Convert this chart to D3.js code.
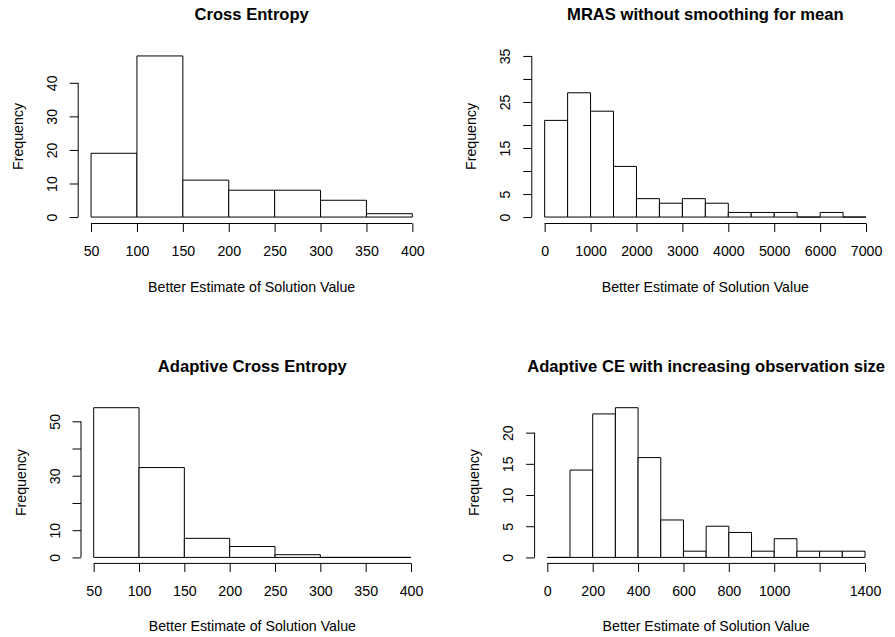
<!DOCTYPE html>
<html><head><meta charset="utf-8">
<script src="https://cdn.jsdelivr.net/npm/d3@7/dist/d3.min.js"></script>
<style>
body{margin:0;background:#fff}
svg{display:block}
text{font-family:"Liberation Sans",Arial,Helvetica,sans-serif;fill:#000}
</style>
</head><body>
<svg id="c" width="895" height="637"></svg>
<script>
// ---- data ----
const titles = ["Cross Entropy", "MRAS without smoothing for mean", "Adaptive Cross Entropy", "Adaptive CE with increasing observation size"];
const xLabel = "Better Estimate of Solution Value";
const yLabel = "Frequency";

const breaksCE = [50, 100, 150, 200, 250, 300, 350, 400];
const countsCE = [19, 48, 11, 8, 8, 5, 1];

const breaksMRAS = [0, 500, 1000, 1500, 2000, 2500, 3000, 3500, 4000, 4500, 5000, 5500, 6000, 6500, 7000];
const countsMRAS = [21, 27, 23, 11, 4, 3, 4, 3, 1, 1, 1, 0, 1, 0];

const breaksACE = [50, 100, 150, 200, 250, 300, 350, 400];
const countsACE = [55, 33, 7, 4, 1, 0, 0];

const breaksACEobs = [0, 100, 200, 300, 400, 500, 600, 700, 800, 900, 1000, 1100, 1200, 1300, 1400];
const countsACEobs = [0, 14, 23, 24, 16, 6, 1, 5, 4, 1, 3, 1, 1, 1];

const yLimMax = [48, 35, 55, 24];

const xTicksCE = [50, 100, 150, 200, 250, 300, 350, 400];
const xTickLabelsCE = ["50", "100", "150", "200", "250", "300", "350", "400"];
const xTicksMRAS = [0, 1000, 2000, 3000, 4000, 5000, 6000, 7000];
const xTickLabelsMRAS = ["0", "1000", "2000", "3000", "4000", "5000", "6000", "7000"];
const xTicksACE = [50, 100, 150, 200, 250, 300, 350, 400];
const xTickLabelsACE = ["50", "100", "150", "200", "250", "300", "350", "400"];
const xTicksACEobs = [0, 200, 400, 600, 800, 1000, 1200, 1400];
const xTickLabelsACEobs = ["0", "200", "400", "600", "800", "1000", "", "1400"];

const yTicksCE = [0, 10, 20, 30, 40];
const yTickLabelsCE = ["0", "10", "20", "30", "40"];
const yTicksMRAS = [0, 5, 10, 15, 20, 25, 30, 35];
const yTickLabelsMRAS = ["0", "5", "", "15", "", "25", "", "35"];
const yTicksACE = [0, 10, 20, 30, 40, 50];
const yTickLabelsACE = ["0", "10", "", "30", "", "50"];
const yTicksACEobs = [0, 5, 10, 15, 20];
const yTickLabelsACEobs = ["0", "5", "10", "15", "20"];

// ---- build panels ----
const panels = [
  {title: titles[0], breaks: breaksCE, counts: countsCE, ymax: yLimMax[0], xt: xTicksCE, xl: xTickLabelsCE, yt: yTicksCE, yl: yTickLabelsCE},
  {title: titles[1], breaks: breaksMRAS, counts: countsMRAS, ymax: yLimMax[1], xt: xTicksMRAS, xl: xTickLabelsMRAS, yt: yTicksMRAS, yl: yTickLabelsMRAS},
  {title: titles[2], breaks: breaksACE, counts: countsACE, ymax: yLimMax[2], xt: xTicksACE, xl: xTickLabelsACE, yt: yTicksACE, yl: yTickLabelsACE},
  {title: titles[3], breaks: breaksACEobs, counts: countsACEobs, ymax: yLimMax[3], xt: xTicksACEobs, xl: xTickLabelsACEobs, yt: yTicksACEobs, yl: yTickLabelsACEobs}
];

// plot regions (layout)
const regions = [
  {left: 78.2, right: 425.2, top: 49.5, bottom: 223.5},
  {left: 531.8, right: 878.9, top: 49.5, bottom: 223.5},
  {left: 81.0, right: 423.7, top: 401.7, bottom: 563.4},
  {left: 534.6, right: 877.7, top: 401.7, bottom: 563.4}
];

const FS = 14.2, TFS = 16.6, TICK = 8.5;
const svg = d3.select("#c");

panels.forEach((p, i) => {
  const r = regions[i];
  const b0 = p.breaks[0], b1 = p.breaks[p.breaks.length - 1];
  const ext = 0.04 * (b1 - b0);
  const x = d3.scaleLinear().domain([b0 - ext, b1 + ext]).range([r.left, r.right]);
  const y = d3.scaleLinear().domain([-0.04 * p.ymax, 1.04 * p.ymax]).range([r.bottom, r.top]);
  const g = svg.append("g");

  // bars (paths so that empty bins still draw their baseline)
  const bins = p.counts.map((c, k) => ({x0: p.breaks[k], x1: p.breaks[k + 1], c}));
  g.selectAll("path.bar").data(bins).join("path")
    .attr("class", "bar")
    .attr("d", d => `M${x(d.x0)},${y(0)}V${y(d.c)}H${x(d.x1)}V${y(0)}Z`)
    .attr("fill", "#fff")
    .attr("stroke", "#000")
    .attr("stroke-width", 1);

  // x axis
  const xa = g.append("g").attr("transform", `translate(0,${r.bottom})`)
    .call(d3.axisBottom(x).tickValues(p.xt).tickSize(TICK).tickSizeOuter(0)
      .tickFormat((d, k) => p.xl[k]));
  xa.select(".domain").remove();
  xa.append("line").attr("x1", x(p.xt[0])).attr("x2", x(p.xt[p.xt.length - 1]))
    .attr("y1", 0).attr("y2", 0).attr("stroke", "#000").attr("stroke-width", 1);
  xa.selectAll(".tick line").attr("stroke", "#000");
  xa.selectAll(".tick text").attr("y", 32.5).attr("dy", null)
    .attr("font-size", FS).attr("fill", "#000");

  // y axis
  const ya = g.append("g").attr("transform", `translate(${r.left},0)`)
    .call(d3.axisLeft(y).tickValues(p.yt).tickSize(TICK).tickSizeOuter(0)
      .tickFormat((d, k) => p.yl[k]));
  ya.select(".domain").remove();
  ya.append("line").attr("y1", y(p.yt[0])).attr("y2", y(p.yt[p.yt.length - 1]))
    .attr("x1", 0).attr("x2", 0).attr("stroke", "#000").attr("stroke-width", 1);
  ya.selectAll(".tick line").attr("stroke", "#000");
  ya.selectAll(".tick text").attr("transform", "rotate(-90)")
    .attr("x", 0).attr("y", -21.5).attr("dy", null)
    .attr("text-anchor", "middle")
    .attr("font-size", FS).attr("fill", "#000");
  g.selectAll("g.tick text").filter(function(){ return this.textContent === ""; }).remove();
  xa.attr("font-family", null).attr("font-size", null);
  ya.attr("font-family", null).attr("font-size", null);

  // labels
  const cx = (r.left + r.right) / 2, cy = (r.top + r.bottom) / 2;
  g.append("text").attr("x", cx).attr("y", r.top - 30).attr("text-anchor", "middle")
    .attr("font-weight", "bold").attr("font-size", TFS).text(p.title);
  g.append("text").attr("x", cx).attr("y", r.bottom + 68).attr("text-anchor", "middle")
    .attr("font-size", FS).text(xLabel);
  g.append("text").attr("transform", `translate(${r.left - 55.5},${cy}) rotate(-90)`)
    .attr("text-anchor", "middle").attr("font-size", FS).text(yLabel);
});
</script>
</body></html>
